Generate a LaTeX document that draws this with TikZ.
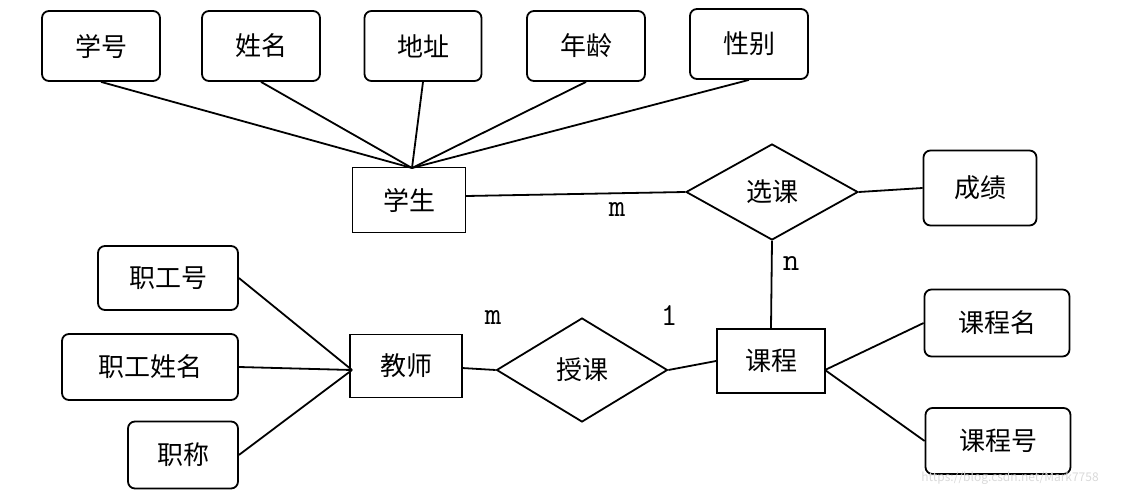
\documentclass[tikz,border=0pt]{standalone}
\usepackage{fontspec}
\setmainfont{Noto Sans CJK SC}
\usetikzlibrary{shapes.geometric}
\begin{document}
\begin{tikzpicture}[x=1pt,y=-1pt,line width=1.8pt,
 font=\fontsize{26}{30}\selectfont,
 attr/.style={draw,rounded corners=7pt,minimum height=70pt,inner sep=0pt},
 ent/.style={draw,minimum height=64pt,inner sep=0pt},
 rel/.style={draw,diamond,aspect=1.75,inner sep=0pt},
 lab/.style={font=\fontsize{32}{36}\selectfont\ttfamily}]
\useasboundingbox (0,0) rectangle (1122,495);
\node[attr,minimum width=118pt] (xh) at (101,46) {学号};
\node[attr,minimum width=118pt] (xm) at (261,46) {姓名};
\node[attr,minimum width=117pt] (dz) at (423,46) {地址};
\node[attr,minimum width=118pt] (nl) at (586,46) {年龄};
\node[attr,minimum width=118pt] (xb) at (749,44) {性别};
\node[ent,minimum width=113pt,minimum height=65pt] (xs) at (409,200) {学生};
\node[rel,minimum width=172pt,minimum height=96pt] (xk) at (772,192) {选课};
\node[attr,minimum width=113pt,minimum height=75pt] (cj) at (980,188) {成绩};
\node[attr,minimum width=140pt,minimum height=64pt] (zgh) at (168,278) {职工号};
\node[attr,minimum width=176pt,minimum height=66pt] (zgxm) at (150,367) {职工姓名};
\node[attr,minimum width=110pt,minimum height=67pt] (zc) at (183,455) {职称};
\node[ent,minimum width=112pt,minimum height=63pt] (js) at (406,366) {教师};
\node[rel,minimum width=171pt,minimum height=104pt] (sk) at (582,370) {授课};
\node[ent,minimum width=108pt,minimum height=64pt] (kc) at (771,361) {课程};
\node[attr,minimum width=145pt,minimum height=67pt] (kcm) at (997,323) {课程名};
\node[attr,minimum width=145pt,minimum height=66pt] (kch) at (998,441) {课程号};
\coordinate (top) at (412,168);
\foreach \a in {xh,xm,dz,nl,xb} \draw (\a.south) -- (top);
\draw (466,196) -- (xk.west);
\draw (xk.east) -- (cj.west);
\draw (xk.south) -- (kc.north);
\coordinate (jw) at (352,370);
\foreach \a in {zgh,zgxm,zc} \draw (\a.east) -- (jw);
\draw (462,368) -- (sk.west);
\draw (sk.east) -- (kc.west);
\coordinate (ke) at (825,370);
\draw (ke) -- (kcm.west);
\draw (ke) -- (kch.west);
\node[lab] (m1) at (617,210) {m};
\node[lab] (n1) at (791,264) {n};
\node[lab] (m2) at (493,318) {m};
\node[lab] (o1) at (669,316) {1};
\node[font=\fontsize{12}{14}\selectfont,text=black!15] (wm) at (1010,478) {https://blog.csdn.net/Mark7758};
\end{tikzpicture}
\end{document}
